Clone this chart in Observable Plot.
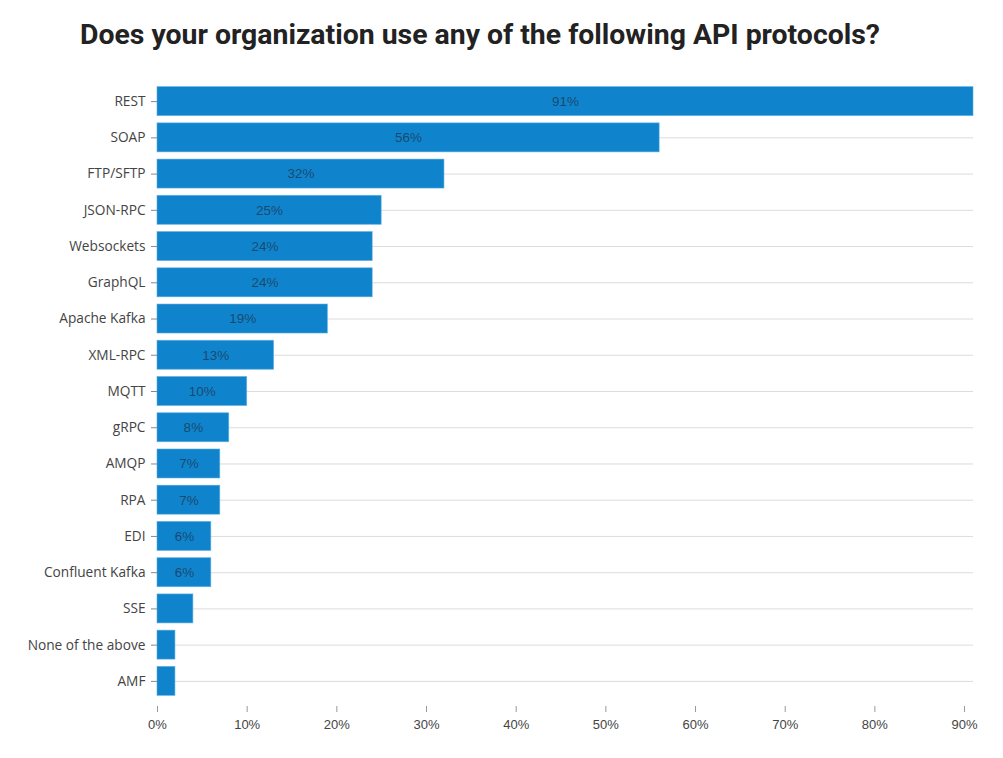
<!DOCTYPE html>
<html>
<head>
<meta charset="utf-8">
<script src="https://cdn.jsdelivr.net/npm/d3@7"></script>
<script src="https://cdn.jsdelivr.net/npm/@observablehq/plot@0.6"></script>
<style>
  body { margin: 0; background: #fff; }
  #title { height: 70px; box-sizing: border-box; padding: 18px 0 0 80px; font-family: Roboto, sans-serif; font-weight: 700; font-size: 28.4px; color: #222; line-height: 34px; white-space: nowrap; }
  #chart svg { display: block; }
</style>
</head>
<body>
<div id="title">Does your organization use any of the following API protocols?</div>
<div id="chart"></div>
<script>
const protocols = ["REST","SOAP","FTP/SFTP","JSON-RPC","Websockets","GraphQL","Apache Kafka","XML-RPC","MQTT","gRPC","AMQP","RPA","EDI","Confluent Kafka","SSE","None of the above","AMF"];
const shares = [91,56,32,25,24,24,19,13,10,8,7,7,6,6,4,2,2];
const xTicks = [0,10,20,30,40,50,60,70,80,90];

const data = protocols.map((p, i) => ({protocol: p, value: shares[i]}));

const chart = Plot.plot({
  width: 1003,
  height: 688,
  marginTop: 13,
  marginBottom: 59,
  marginLeft: 157,
  marginRight: 30,
  style: {fontFamily: "'Open Sans', sans-serif", fontSize: "13.7px", color: "#444", background: "#fff"},
  x: {domain: [0, 91], range: [157, 973]},
  y: {domain: protocols, paddingInner: 0.2, paddingOuter: 0.1, round: false},
  marks: [
    Plot.gridY({stroke: "#dcdcdc", strokeOpacity: 1, strokeWidth: 1}),
    Plot.barX(data, {y: "protocol", x: "value", fill: "#0f84cc", stroke: "#5aaee0", strokeWidth: 0.8, strokeOpacity: 0.7}),
    Plot.text(data.filter(d => d.value >= 5), {y: "protocol", x: d => d.value / 2, text: d => d.value + "%", fill: "#1d3d5c", fillOpacity: 0.85, fontFamily: "'Liberation Sans', Arial, sans-serif", fontSize: 13.5}),
    Plot.axisY({tickSize: 6, tickPadding: 6, stroke: "#888", label: null, fontSize: 13.7, fill: "#444"}),
    Plot.axisX({ticks: xTicks, tickFormat: d => d + "%", tickSize: 6, tickPadding: 7, dy: 7, stroke: "#999", label: null, fontFamily: "'Liberation Sans', Arial, sans-serif", fontSize: 13, fill: "#444"})
  ]
});
document.getElementById("chart").appendChild(chart);
</script>
</body>
</html>
